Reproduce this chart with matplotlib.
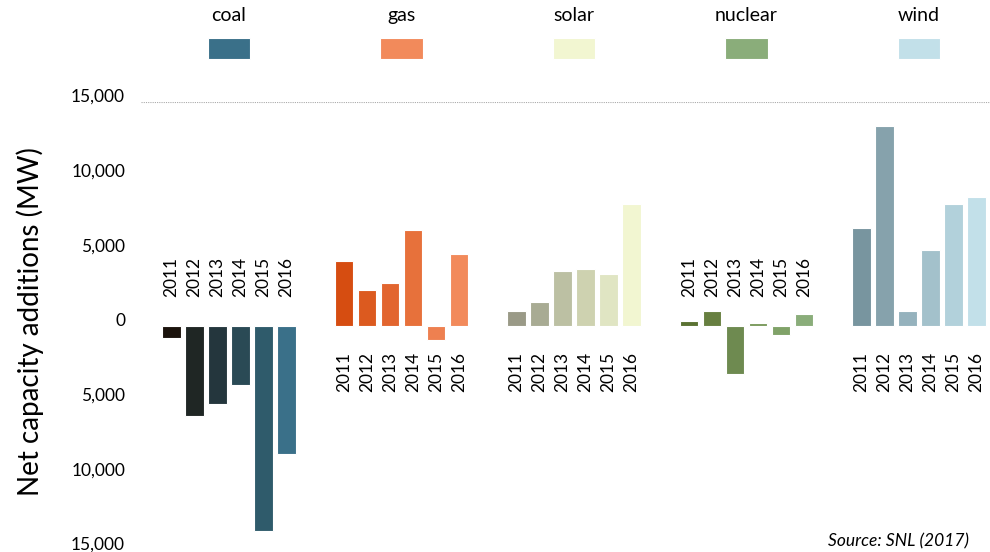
import matplotlib
matplotlib.use("Agg")
import matplotlib.pyplot as plt
from matplotlib.patches import Rectangle

plt.rcParams['font.family'] = ['Lato', 'DejaVu Sans']

# data (MW)
years = ['2011', '2012', '2013', '2014', '2015', '2016']
sources = ['coal', 'gas', 'solar', 'nuclear', 'wind']
coal = [-800, -6050, -5250, -3950, -13700, -8600]
gas = [4350, 2400, 2900, 6400, -950, 4800]
solar = [1000, 1600, 3700, 3850, 3500, 8150]
nuclear = [340, 1000, -3200, 200, -600, 800]
wind = [6550, 13400, 1000, 5100, 8150, 8650]
values = [coal, gas, solar, nuclear, wind]

# per-year shades, legend uses the last one
colors = [
    ['#1b130c', '#1f2624', '#24363d', '#2a4a55', '#2f5b6b', '#3a7089'],
    ['#d64d11', '#dc5a1f', '#e2652f', '#e7713b', '#ee8050', '#f28a5b'],
    ['#9a9a87', '#a8ab93', '#bcc0a3', '#ced2b0', '#e0e5c3', '#f2f6d1'],
    ['#5a7232', '#677f40', '#6e8a50', '#7a9a5d', '#80a268', '#8aad7a'],
    ['#78959f', '#86a2ac', '#95b2bd', '#a3c1cb', '#b2d1db', '#c2e0e9'],
]

yticks = [15000, 10000, 5000, 0, -5000, -10000, -15000]
ytick_labels = ['15,000', '10,000', '5,000', '0', '5,000', '10,000', '15,000']

group_gap = 7.5

fig = plt.figure(figsize=(9.9, 5.52), dpi=100)
ax = fig.add_axes([0.1424, 0.0036, 0.8576, 0.8116])

for g, (name, vals, cols) in enumerate(zip(sources, values, colors)):
    xs = [g * group_gap + i for i in range(len(years))]
    ax.bar(xs, vals, width=0.8, color=cols, edgecolor='white', linewidth=0.8)
    # year labels: above zero when the group is mostly negative
    above = sum(vals) < 0
    for x, yr in zip(xs, years):
        if above:
            ax.text(x, 1950, yr, rotation=90, ha='center', va='bottom', fontsize=12.5)
        else:
            ax.text(x, -1750, yr, rotation=90, ha='center', va='top', fontsize=12.5)
    # legend entry centred above the group
    cx = g * group_gap + 2.5
    tr = ax.get_xaxis_transform()
    ax.text(cx, 1.192, name, transform=tr, ha='center', va='center', fontsize=14, clip_on=False)
    ax.add_patch(Rectangle((cx - 0.915, 1.096), 1.83, 0.047, transform=tr,
                           facecolor=cols[-1], edgecolor='white', linewidth=0.8, clip_on=False))

ax.axhline(15000, color='#aaaaaa', linestyle=(0, (1, 1)), linewidth=0.8)

ax.set_xlim(-1.33, 35.59)
ax.set_ylim(-15000, 15000)
ax.set_yticks(yticks)
ax.set_yticklabels(ytick_labels, fontsize=12.5)
for lab in ax.get_yticklabels():
    lab.set_va('baseline')
ax.tick_params(axis='y', length=0, pad=11.5)
ax.set_xticks([])
for s in ax.spines.values():
    s.set_visible(False)

fig.text(30 / 990, 1 - 322 / 552, 'Net capacity additions (MW)', rotation=90,
         ha='center', va='center', fontsize=20)
fig.text(828 / 990, 1 - 533 / 552, 'Source: SNL (2017)', ha='left', va='top',
         fontsize=12.5, style='italic')

fig.savefig('out.png', dpi=100)
